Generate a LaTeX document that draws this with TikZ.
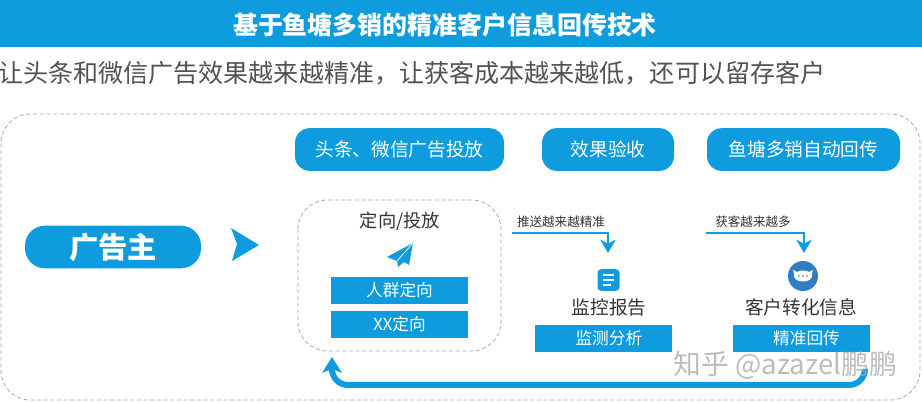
\documentclass[tikz,border=0pt]{standalone}
\usepackage{fontspec}
\setmainfont{Noto Sans CJK SC}
\usepackage{tikz}
\usetikzlibrary{positioning}
\usetikzlibrary{arrows.meta}
\definecolor{mainblue}{HTML}{0E9CDF}
\definecolor{iconblue}{HTML}{2F7EC4}
\definecolor{darktext}{HTML}{333333}
\definecolor{dashgray}{HTML}{A8A8A8}
\tikzstyle{pill} = [rectangle,rounded corners=11pt,fill=mainblue,text=white,inner sep=0pt,minimum height=32pt,font=\fontsize{14}{16}\selectfont]
\tikzstyle{bluebox} = [rectangle,fill=mainblue,text=white,inner sep=0pt,minimum width=102.75pt,minimum height=20.25pt,font=\fontsize{12.5}{14}\selectfont]
\tikzstyle{label} = [inner sep=0pt,text=darktext,font=\fontsize{14}{16}\selectfont]
\tikzstyle{small} = [inner sep=0pt,text=darktext,font=\fontsize{9.4}{10}\selectfont]
\tikzstyle{dashbox} = [draw=dashgray,dash pattern=on 3pt off 2pt,line width=.6pt]
\tikzstyle{thinarrow} = [mainblue,line width=1.5pt,-{Stealth[inset=3pt,length=10pt,width=11.5pt]}]
\tikzstyle{bigarrow} = [mainblue,line width=4.5pt,rounded corners=12pt]
\begin{document}
\begin{tikzpicture}[x=.75pt,y=-.75pt]
	\useasboundingbox (0,0) rectangle (922,402);
	\fill[mainblue] (0,0) rectangle (922,47);
	\node[text=white,font=\fontsize{18.7}{20}\selectfont\bfseries] (title) at (445,25) {基于鱼塘多销的精准客户信息回传技术};
	\node[inner sep=0pt,anchor=west,text=darktext!85,font=\fontsize{18.8}{20}\selectfont] (sub) at (-2,73) {让头条和微信广告效果越来越精准，让获客成本越来越低，还可以留存客户};
	\draw[dashbox,rounded corners=22pt] (1,114) rectangle (920,400);
	% top row
	\node[pill,minimum width=156.75pt] (toutiao) at (399.5,149.5) {头条、微信广告投放};
	\node[pill,minimum width=99pt] (yanshou) at (608,149.5) {效果验收};
	\node[pill,minimum width=144.75pt] (huichuan) at (803.5,149.5) {鱼塘多销自动回传};
	% left
	\node[pill,rounded corners=15pt,minimum width=132pt,font=\fontsize{22}{24}\selectfont\bfseries] (ader) at (113,247) {广告主};
	\fill[mainblue] (231,228) -- (259,245) -- (232,261) -- (237,244) -- cycle;
	% targeting group
	\draw[dashbox,rounded corners=22pt] (298,200) rectangle (501,351);
	\node[label,font=\fontsize{13.7}{16}\selectfont] (dingxiang) at (400,221) {定向/投放};
	\fill[mainblue] (413,243) -- (387,257) -- (397,261) -- (398,267) -- (404,262) -- (409,265) -- cycle;
	\draw[white,line width=.5pt] (397,261) -- (413,243);
	\node[bluebox] (renqun) at (399.5,290.5) {人群定向};
	\node[bluebox,below=4.5pt of renqun] (xx) {XX定向};
	% monitoring
	\coordinate (m0) at (512,233);
	\coordinate (m1) at (608,253);
	\node[small] (tuisong) at (561,222) {推送越来越精准};
	\draw[thinarrow] (m0) -| (m1);
	\node[fill=mainblue,rounded corners=3pt,minimum size=16.5pt,inner sep=0pt] (doc) at (608.5,280) {};
	\draw[white,line width=1.2pt] (603,275) -- (614,275) (603,280) -- (614,280) (603,285) -- (611,285);
	\node[label] (jiankong) at (609,307) {监控报告};
	\node[bluebox] (jiance) at (603.5,338.5) {\kern8pt 监测分析};
	% conversion
	\coordinate (c0) at (706,233);
	\coordinate (c1) at (804,253);
	\node[small] (huoke) at (753,222) {获客越来越多};
	\draw[thinarrow] (c0) -| (c1);
	\node[circle,fill=iconblue,minimum size=22.5pt,inner sep=0pt] (fish) at (803,276) {};
	\fill[white] (803,276) ellipse (9 and 5.5);
	\fill[white] (793,270) -- (799,273) -- (795,277) -- cycle (813,270) -- (807,273) -- (811,277) -- cycle;
	\fill[iconblue] (799,276) circle (.9) (803,276) circle (.9) (807,276) circle (.9);
	\node[label] (kehu) at (801,307) {客户转化信息};
	\node[bluebox] (jingzhun) at (801.5,338.5) {\kern7.5pt 精准回传};
	% feedback
	\coordinate (f0) at (865,370);
	\coordinate (f1) at (332,372);
	\coordinate (f2) at (332,357);
	\draw[bigarrow] (f0) |- (f1 |- 0,385) -- (f1);
	\fill[mainblue] (f2) -- (342,373) -- (332,369) -- (322,373) -- cycle;
	% watermark
	\node[inner sep=0pt,anchor=east,text=gray!70,opacity=.75,font=\fontsize{20.8}{22}\selectfont] (mark) at (897,365) {知乎 @azazel鹏鹏};
\end{tikzpicture}
\end{document}
